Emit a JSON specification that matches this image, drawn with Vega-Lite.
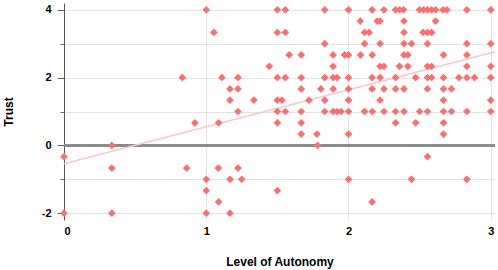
{
"$schema": "https://vega.github.io/schema/vega-lite/v6.json",
"width": 431, "height": 217,
"autosize": {"type": "none"},
"padding": {"left": 64, "top": 3, "right": 3, "bottom": 50},
"config": {"view": {"stroke": null},
 "axis": {"labelFont": "Liberation Sans", "titleFont": "Liberation Sans", "labelFontWeight": "bold", "titleFontWeight": "bold", "labelFontSize": 11, "titleFontSize": 12, "labelColor": "#000", "titleColor": "#000", "gridColor": "#e3e3e3"}},
"datasets": {
"fit": [{"x": 0, "y": -0.54}, {"x": 3.03, "y": 2.76}],
"pts": [
{"x":0,"y":-0.333},{"x":0,"y":-2},{"x":0.336,"y":0},{"x":0.336,"y":-0.667},{"x":0.336,"y":-2},
{"x":0.832,"y":2},{"x":0.862,"y":-0.667},{"x":0.92,"y":0.667},
{"x":1.0,"y":4},{"x":1.0,"y":-1},{"x":1.0,"y":-1.333},{"x":1.0,"y":-2},
{"x":1.054,"y":3.333},
{"x":1.087,"y":0.667},{"x":1.085,"y":-0.667},{"x":1.087,"y":-1.667},
{"x":1.11,"y":2},
{"x":1.167,"y":1.667},{"x":1.167,"y":1.333},{"x":1.167,"y":-1},{"x":1.167,"y":-2},
{"x":1.223,"y":2},{"x":1.223,"y":1.667},{"x":1.223,"y":1},{"x":1.223,"y":-0.667},
{"x":1.249,"y":-1},
{"x":1.335,"y":1.333},
{"x":1.443,"y":2.333},
{"x":1.5,"y":4},{"x":1.5,"y":3.333},{"x":1.5,"y":2},{"x":1.5,"y":1.333},{"x":1.5,"y":1},{"x":1.5,"y":0.667},{"x":1.5,"y":-1.333},
{"x":1.532,"y":1.333},
{"x":1.556,"y":4},{"x":1.556,"y":3.333},{"x":1.556,"y":2},{"x":1.556,"y":1},
{"x":1.583,"y":2.667},
{"x":1.668,"y":2.667},{"x":1.668,"y":2},{"x":1.668,"y":1.667},{"x":1.668,"y":1},{"x":1.668,"y":0.667},{"x":1.668,"y":0.333},
{"x":1.722,"y":1.333},
{"x":1.778,"y":0.333},{"x":1.783,"y":0},
{"x":1.806,"y":1.667},
{"x":1.833,"y":4},{"x":1.833,"y":3},{"x":1.833,"y":2},{"x":1.833,"y":1.333},{"x":1.833,"y":1},
{"x":1.892,"y":2.667},{"x":1.892,"y":2.333},{"x":1.892,"y":2},{"x":1.892,"y":1.667},{"x":1.892,"y":1},
{"x":1.92,"y":2},{"x":1.92,"y":1},
{"x":1.948,"y":1},
{"x":1.972,"y":2.667},
{"x":2.0,"y":4},{"x":2.0,"y":2.667},{"x":2.0,"y":2},{"x":2.0,"y":1.667},{"x":2.0,"y":1.333},{"x":2.0,"y":1},{"x":2.0,"y":0.333},{"x":2.0,"y":-1},
{"x":2.083,"y":3.667},{"x":2.085,"y":2.667},
{"x":2.113,"y":3.333},{"x":2.113,"y":3},{"x":2.113,"y":1},
{"x":2.145,"y":3.333},
{"x":2.166,"y":4},{"x":2.167,"y":2.667},{"x":2.166,"y":2},{"x":2.166,"y":1.667},{"x":2.167,"y":1},{"x":2.166,"y":-1.667},
{"x":2.202,"y":3.667},
{"x":2.222,"y":3.667},{"x":2.222,"y":3},{"x":2.222,"y":2.333},{"x":2.222,"y":2},{"x":2.222,"y":1.333},
{"x":2.249,"y":4},{"x":2.249,"y":2.333},{"x":2.249,"y":1.667},{"x":2.249,"y":1},
{"x":2.331,"y":4},{"x":2.331,"y":2},{"x":2.331,"y":1.667},{"x":2.331,"y":1},{"x":2.331,"y":0.667},
{"x":2.359,"y":4},{"x":2.359,"y":2.333},
{"x":2.387,"y":4},
{"x":2.39,"y":3.667},{"x":2.39,"y":3.333},{"x":2.39,"y":3},{"x":2.39,"y":2.667},{"x":2.39,"y":1.667},{"x":2.39,"y":1},
{"x":2.417,"y":2.667},{"x":2.417,"y":2.333},
{"x":2.443,"y":3},{"x":2.443,"y":-1},
{"x":2.472,"y":2},{"x":2.472,"y":0.667},
{"x":2.5,"y":4},{"x":2.5,"y":1},
{"x":2.524,"y":3.333},{"x":2.528,"y":4},
{"x":2.555,"y":4},{"x":2.555,"y":3.333},{"x":2.555,"y":3},{"x":2.555,"y":2.333},{"x":2.555,"y":2},{"x":2.555,"y":1.667},{"x":2.555,"y":1},{"x":2.555,"y":-0.333},
{"x":2.584,"y":4},{"x":2.584,"y":3.333},{"x":2.584,"y":2.333},{"x":2.584,"y":2},
{"x":2.612,"y":4},{"x":2.612,"y":3.667},
{"x":2.665,"y":4},{"x":2.668,"y":2.667},{"x":2.668,"y":2},{"x":2.668,"y":1.667},{"x":2.668,"y":1.333},{"x":2.668,"y":1},{"x":2.668,"y":0.667},{"x":2.668,"y":0.333},
{"x":2.692,"y":4},
{"x":2.724,"y":1.667},{"x":2.724,"y":1},
{"x":2.776,"y":2},
{"x":2.832,"y":4},{"x":2.832,"y":3},{"x":2.832,"y":2.667},{"x":2.832,"y":2.333},{"x":2.832,"y":2},{"x":2.832,"y":1},{"x":2.832,"y":-1},
{"x":2.886,"y":2},
{"x":3.0,"y":4},{"x":3.0,"y":3},{"x":3.0,"y":2.333},{"x":3.0,"y":2},{"x":3.0,"y":1.333},{"x":3.0,"y":1}
]},
"data": {"name": "pts"},
"encoding": {
 "x": {"field": "x", "type": "quantitative", "scale": {"domain": [0, 3.03], "nice": false, "zero": false},
  "axis": {"values": [0, 1, 2, 3], "title": "Level of Autonomy", "domain": false, "ticks": false, "labelPadding": 5, "titlePadding": 20, "grid": true}},
 "y": {"field": "y", "type": "quantitative", "scale": {"domain": [-2.2, 4.2], "nice": false},
  "axis": {"values": [-2, -1, 0, 1, 2, 3, 4], "labelExpr": "datum.value % 2 === 0 ? toString(datum.value) : ''", "title": "Trust", "tickColor": "#666", "domainColor": "#555", "tickSize": {"condition": {"test": "datum.value % 2 === 0", "value": 7}, "value": 4}, "labelPadding": 6, "titlePadding": 26, "grid": true}}
},
"layer": [
 {"mark": {"type": "rule", "color": "#8a8a8a", "strokeWidth": 1.5}, "encoding": {"y": {"datum": 0}, "x": {"value": 0}, "x2": {"value": 431}}},
 {"data": {"name": "fit"}, "mark": {"type": "line", "color": "#f8c6cb", "strokeWidth": 1.5}, "encoding": {}},
 {"mark": {"type": "point", "shape": "diamond", "filled": true, "size": 60, "color": "#f87171", "opacity": 1}, "encoding": {}}
]
}
